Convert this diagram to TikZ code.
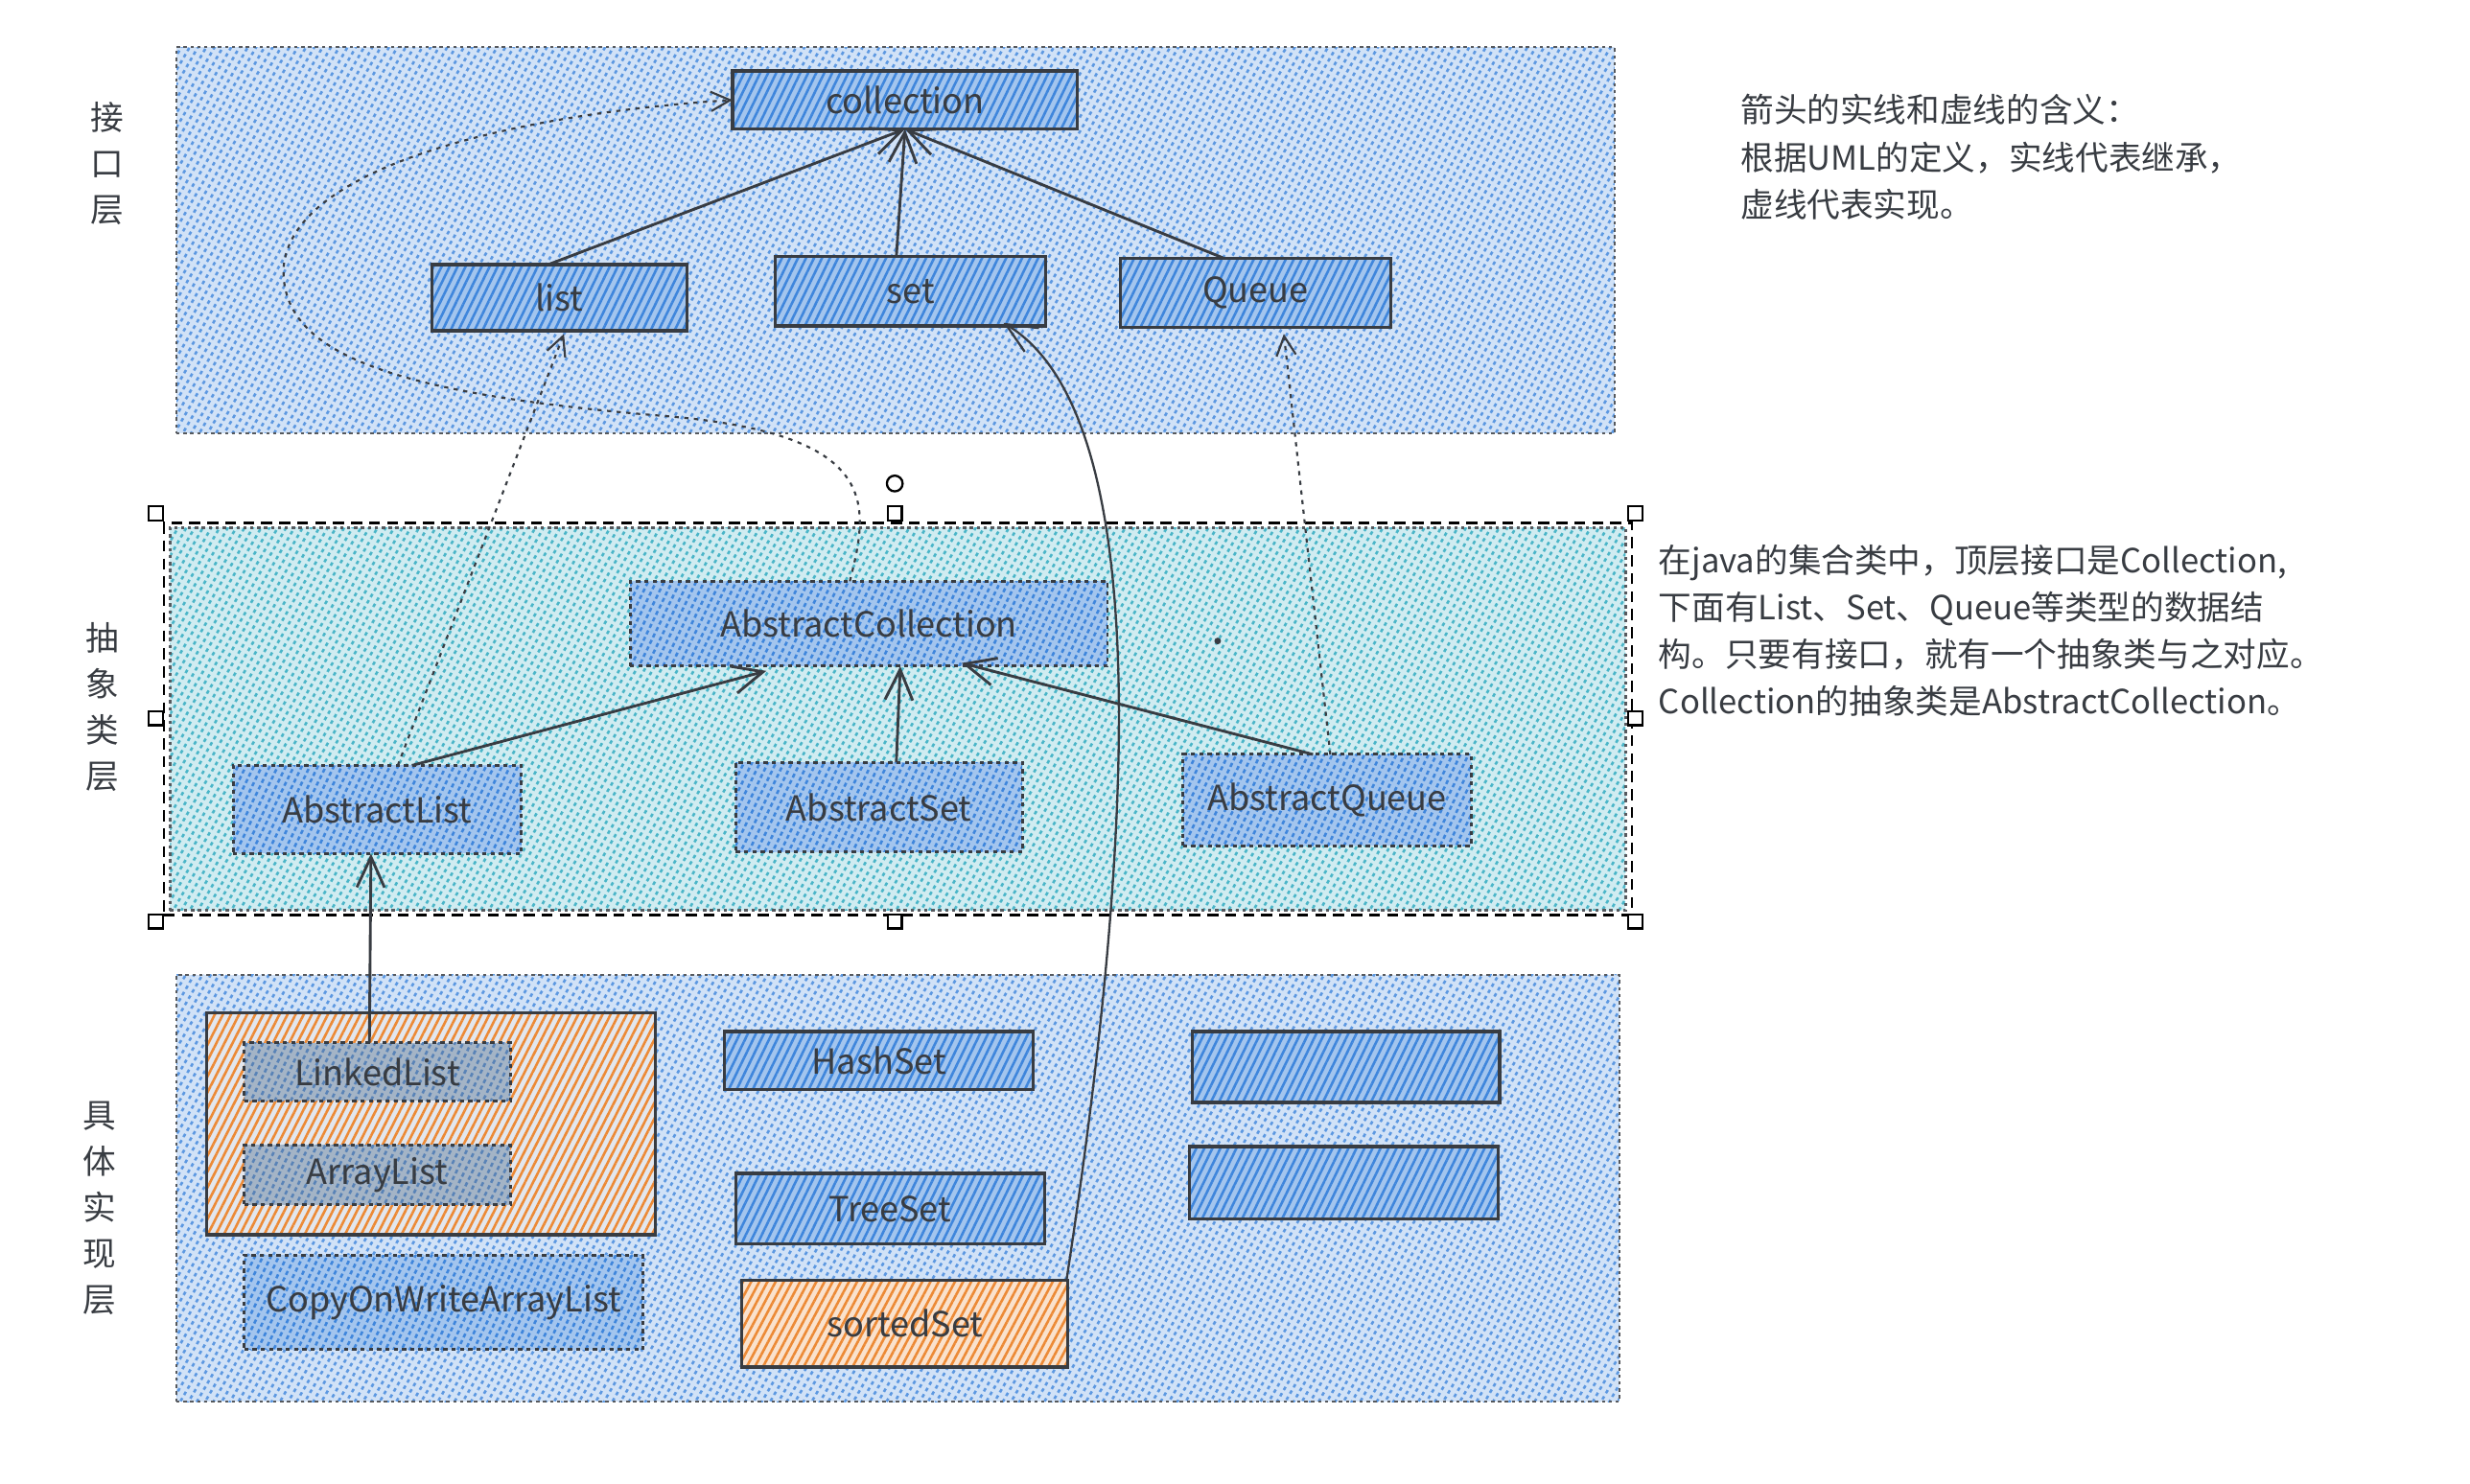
\documentclass[tikz,border=0pt]{standalone}
\usepackage{fontspec}
\setmainfont{Noto Sans CJK SC}
\usetikzlibrary{patterns.meta,arrows.meta,calc,fit}
\definecolor{ink}{HTML}{383C42}
\definecolor{hblue}{HTML}{3F86DC}
\definecolor{hteal}{HTML}{2AA8BE}
\definecolor{horange}{HTML}{EC8A36}
\definecolor{gfill}{HTML}{A4B4C6}
\begin{document}
\begin{tikzpicture}[x=0.02cm,y=-0.02cm,
  every node/.style={inner sep=0pt,outer sep=0pt,text=ink,font=\fontsize{12.5}{14}\selectfont},
  wh/.style 2 args={minimum width=#1*0.02cm,minimum height=#2*0.02cm},
  hatch/.style={pattern={Lines[angle=#1,distance=2.6pt,line width=0.9pt]}},
  panelblue/.style={draw=ink!85,line width=0.8pt,dash pattern=on 1.2pt off 1.3pt,preaction={fill=hblue!24},hatch=60,pattern color=hblue!85},
  panelteal/.style={draw=ink!85,line width=0.8pt,dash pattern=on 1.2pt off 1.3pt,preaction={fill=hteal!22},hatch=60,pattern color=hteal!85},
  sbox/.style={draw=ink,line width=1.1pt,preaction={fill=hblue!48},hatch=64,pattern color=hblue},
  dbox/.style={draw=ink,line width=1pt,dash pattern=on 1.5pt off 1.5pt,preaction={fill=hblue!48},hatch=64,pattern color=hblue},
  gbox/.style={draw=ink,line width=1pt,dash pattern=on 1.5pt off 1.5pt,preaction={fill=gfill},hatch=64,pattern color=hblue!60!gray},
  obox/.style={draw=ink,line width=1.1pt,preaction={fill=horange!25},hatch=62,pattern color=horange},
  ogroup/.style={draw=ink,line width=1.1pt,preaction={fill=horange!30!hblue!20},hatch=63,pattern color=horange},
  conn/.style={draw=ink,line width=1pt,-{Straight Barb[length=11pt,width=10pt]}},
  dconn/.style={draw=ink,line width=0.75pt,dash pattern=on 1.5pt off 2pt,-{Straight Barb[length=7pt,width=7pt]}},
  handle/.style={draw=black,fill=white,line width=0.8pt,minimum size=9*0.02cm},
  side/.style={align=center,font=\fontsize{12}{16.6}\selectfont},
  note/.style={align=left,anchor=north west,font=\fontsize{12}{17}\selectfont}
]
\useasboundingbox (0,0) rectangle (1568,942);

% panels
\node[panelblue,fit={(112,30)(1025,275)}] (ptop) {};
\node[panelteal,fit={(108,335)(1032,578)}] (pmid) {};
\node[panelblue,fit={(112,619)(1028,890)}] (pbot) {};

% selection frame
\node[draw=black,line width=0.9pt,dash pattern=on 4pt off 2.5pt,fit={(104,332)(1036,581)}] (sel) {};
\foreach \hx/\hy/\hn in {99/326/h1,568/326/h2,1038/326/h3,99/456/h4,1038/456/h5,99/585/h6,568/585/h7,1038/585/h8}
  \node[handle] (\hn) at (\hx,\hy) {};
\node[draw=black,fill=white,line width=0.8pt,circle,minimum size=10*0.02cm] (rot) at (568,307) {};
\fill[ink] (773,407) circle (1.2pt);

% interface layer
\node[sbox,wh={219}{37}] (coll) at (574.5,63.5) {collection};
\node[sbox,wh={162}{42}] (list) at (355,189) {list};
\node[sbox,wh={172}{44}] (set) at (578,185) {set};
\node[sbox,wh={172}{44}] (queue) at (797,186) {Queue};

% abstract layer
\node[dbox,wh={303}{54}] (acoll) at (551.5,396) {AbstractCollection};
\node[dbox,wh={183}{56}] (alist) at (239.5,514) {AbstractList};
\node[dbox,wh={182}{57}] (aset) at (558,512.5) {AbstractSet};
\node[dbox,wh={183}{58}] (aqueue) at (842.5,508) {AbstractQueue};

% implementation layer
\node[ogroup,wh={285}{141}] (grp) at (273.5,713.5) {};
\node[gbox,wh={169}{37}] (linked) at (239.5,680.5) {LinkedList};
\node[gbox,wh={169}{38}] (array) at (239.5,746) {ArrayList};
\node[dbox,wh={253}{60}] (cow) at (281.5,827) {CopyOnWriteArrayList};
\node[sbox,wh={196}{37}] (hash) at (558,673.5) {HashSet};
\node[sbox,wh={196}{45}] (tree) at (565,767.5) {TreeSet};
\node[obox,wh={207}{55}] (sorted) at (574.5,840.5) {sortedSet};
\node[sbox,wh={195}{45}] (e1) at (854.5,677.5) {};
\node[sbox,wh={196}{46}] (e2) at (853,751) {};

% side labels
\node[side] (l1) at (68,104) {接\\口\\层};
\node[side] (l2) at (65,449) {抽\\象\\类\\层};
\node[side] (l3) at (63,767) {具\\体\\实\\现\\层};

% notes
\node[note] (n1) at (1105,60) {箭头的实线和虚线的含义：\\根据UML的定义，实线代表继承，\\虚线代表实现。};
\node[note] (n2) at (1053,346) {在java的集合类中，顶层接口是Collection,\\下面有List、Set、Queue等类型的数据结\\构。只要有接口，就有一个抽象类与之对应。\\Collection的抽象类是AbstractCollection。};

% solid connectors (inheritance)
\draw[conn] ($(list.north)+(-7,0)$) -- (coll.south);
\draw[conn] ($(set.north)+(-9,0)$) -- (coll.south);
\draw[conn] ($(queue.north)+(-20,0)$) -- (coll.south);
\draw[conn] ($(alist.north)+(22,0)$) -- ($(acoll.south)+(-65,3)$);
\draw[conn] ($(aset.north)+(11,0)$) -- ($(acoll.south)+(20,0)$);
\draw[conn] ($(aqueue.north)+(-9,0)$) -- ($(acoll.south)+(59,-2)$);
\draw[conn] ($(linked.north)+(-5,0)$) -- ($(alist.south)+(-4,0)$);
\draw[conn,line width=0.8pt] ($(sorted.north east)+(-1,0)$) .. controls (722,520) and (732,262) .. ($(set.south east)+(-27,-2)$);

% dotted connectors (realisation)
\draw[dconn] ($(alist.north)+(13,0)$) -- ($(list.south)+(3,2)$);
\draw[dconn] ($(aqueue.north)+(2,0)$) -- ($(queue.south)+(18,4)$);
\draw[dconn] ($(acoll.north)+(-12,0)$) .. controls (552,320) and (560,275) .. (420,264)
  .. controls (250,250) and (178,225) .. (180,170)
  .. controls (185,105) and (330,72) .. (coll.west);
\end{tikzpicture}
\end{document}
